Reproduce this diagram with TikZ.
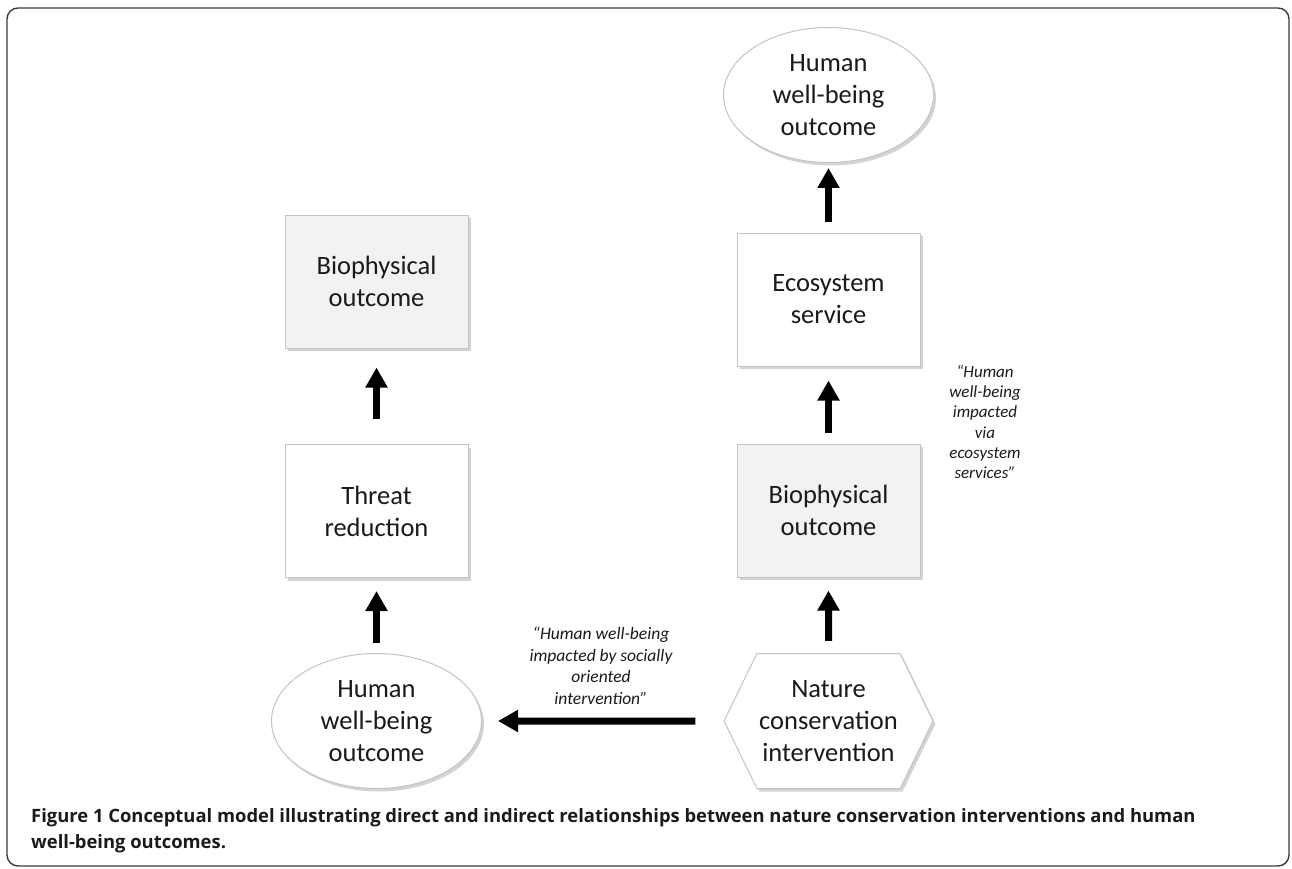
\documentclass[tikz,border=0pt]{standalone}
\usepackage{fontspec}
\setmainfont{Carlito}
\newfontfamily\capfont{Open Sans}
\usetikzlibrary{arrows.meta,shapes.geometric,shapes.symbols,shadows}
\definecolor{boxgray}{HTML}{F2F2F2}
\definecolor{edgegray}{HTML}{C4C4C4}
\definecolor{framegray}{HTML}{3A3A3A}
\definecolor{textblack}{HTML}{1A1A1A}
\begin{document}
\begin{tikzpicture}[x=1pt, y=-1pt,
    softshadow/.style={drop shadow={shadow xshift=2.5pt, shadow yshift=-3pt, opacity=0.35, fill=black!50}},
    box/.style={draw=edgegray, line width=1pt, fill=white, minimum width=183pt, minimum height=133pt,
        align=center, text=textblack, font=\fontsize{26.5}{32}\selectfont, softshadow},
    oval/.style={ellipse, draw=edgegray, line width=1pt, fill=white, inner sep=0pt, minimum width=210pt,
        minimum height=135pt, align=center, text=textblack, font=\fontsize{26.5}{32}\selectfont, softshadow},
    hexa/.style={signal, signal to=west and east, signal pointer angle=128, draw=edgegray, line width=1pt,
        fill=white, inner sep=0pt, minimum width=209pt, minimum height=135pt, align=center, text=textblack,
        font=\fontsize{26.5}{32}\selectfont, softshadow},
    quote/.style={align=center, text=textblack, font=\itshape\fontsize{17.5}{21.5}\selectfont},
    bigarrow/.style={line width=7pt, -{Triangle[width=21pt,length=20pt]}}
]
    \useasboundingbox (0,0) rectangle (1292,869);

    % frame
    \draw[framegray, line width=1.4pt, rounded corners=11pt] (7,8) rectangle (1289,866);

    % left column
    \node[box, fill=boxgray] (bioL) at (376.5,281.5) {Biophysical\\outcome};
    \node[box] (threat) at (376.5,511) {Threat\\reduction};
    \node[oval] (hwbL) at (376.5,721) {Human\\well-being\\outcome};

    % right column
    \node[hexa] (nci) at (828.5,721) {Nature\\conservation\\intervention};
    \node[box, fill=boxgray] (bioR) at (828.5,510.5) {Biophysical\\outcome};
    \node[box] (eco) at (828.5,299.5) {Ecosystem\\service};
    \node[oval] (hwbT) at (828.5,95) {Human\\well-being\\outcome};

    % arrows
    \draw[bigarrow, shorten <=10pt, shorten >=13pt] (hwbL) -- (threat);
    \draw[bigarrow, shorten <=25pt, shorten >=19pt] (threat) -- (bioL);
    \draw[bigarrow, shorten <=12pt, shorten >=13pt] (nci) -- (bioR);
    \draw[bigarrow, shorten <=11pt, shorten >=14pt] (bioR) -- (eco);
    \draw[bigarrow, shorten <=11pt, shorten >=5pt] (eco) -- (hwbT);
    \draw[bigarrow, shorten <=28pt, shorten >=16pt] (nci) -- (hwbL);

    % labels
    \node[quote] (qL) at (601,666) {“Human well-being\\impacted by socially\\oriented\\intervention”};
    \node[quote, font=\itshape\fontsize{17}{20.2}\selectfont] (qR) at (985,422)
        {“Human\\well-being\\impacted\\via\\ecosystem\\services”};

    % caption
    \node[anchor=base west, align=left, inner sep=0pt, text=textblack,
        font=\capfont\bfseries\fontsize{18.4}{26}\selectfont] (cap) at (31,848)
        {Figure 1 Conceptual model illustrating direct and indirect relationships between nature conservation interventions and human\\
         well-being outcomes.};
\end{tikzpicture}
\end{document}
